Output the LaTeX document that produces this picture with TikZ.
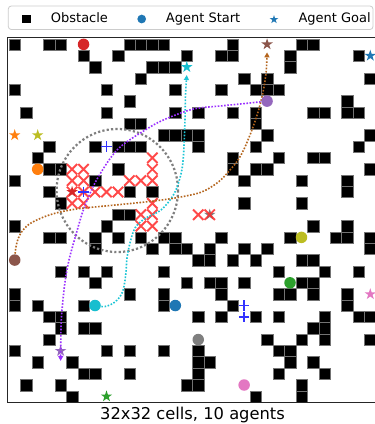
\documentclass[tikz,border=0pt]{standalone}
\usepackage{fontspec}
\setmainfont{DejaVu Sans}
\usetikzlibrary{shapes.geometric,arrows.meta}
\definecolor{tblue}{HTML}{1F77B4}
\definecolor{torange}{HTML}{FF7F0E}
\definecolor{tgreen}{HTML}{2CA02C}
\definecolor{tred}{HTML}{D62728}
\definecolor{tpurple}{HTML}{9467BD}
\definecolor{tbrown}{HTML}{8C564B}
\definecolor{tpink}{HTML}{E377C2}
\definecolor{tgray}{HTML}{7F7F7F}
\definecolor{tolive}{HTML}{BCBD22}
\definecolor{tcyan}{HTML}{17BECF}
\definecolor{pathcyan}{HTML}{1BC5D6}
\definecolor{pathpurple}{HTML}{9B30FF}
\definecolor{pathbrown}{HTML}{B5651D}
\definecolor{xred}{HTML}{FF2A2A}
\definecolor{plusblue}{HTML}{3333FF}
\tikzset{cellcs/.cd, c/.store in=\cellc, r/.store in=\cellr}
\tikzdeclarecoordinatesystem{cell}{%
  \tikzset{cellcs/.cd,#1}%
  \pgfmathsetmacro\cellX{14.735+11.47*\cellc}%
  \pgfmathsetmacro\cellY{-(44.3475+11.355*\cellr)}%
  \pgfpoint{\cellX pt}{\cellY pt}}
\tikzset{
  obst/.style={fill=black, draw=black!55, line width=0.3pt},
  startdot/.style={circle, inner sep=0pt, minimum size=11.5pt},
  goalstar/.style={star, star points=5, star point ratio=2.618, inner sep=0pt, minimum size=12pt},
  xm/.style={draw=xred, opacity=0.85, line width=1.9pt},
  plusm/.style={draw=plusblue, line width=1.6pt},
  pathline/.style={line width=1.6pt, dash pattern=on 1.6pt off 1.6pt, -{Triangle[length=5pt,width=5pt]}},
  spine/.style={draw=black!85, line width=1.2pt},
  legtext/.style={anchor=base west, inner sep=0pt, font=\fontsize{13}{15}\selectfont}
}
\begin{document}
\begin{tikzpicture}[x=1pt,y=-1pt]
\useasboundingbox (0,0) rectangle (375,424);
\fill[white] (0,0) rectangle (375,424);
% obstacles
\foreach \r/\cl in {
0/{0,3,4,10,11,12,13,19,25,26},
1/{6,9,15,18,19,24,30},
2/{7,12,13,14,24},
3/{11,20,22,31},
4/{0,8,14,18,21,22,23},
5/{10,29},
6/{1,8,14,16,19,21,26,27,29,30},
7/{10,11,21},
8/{13,14,15,16,22,31},
9/{3,7,9,10,11,16,21,30},
10/{2,19,23,26,27},
11/{3,4,9,19,21,22,31},
12/{0,7,20,25,29},
13/{3,10,12,29},
14/{4,20,25},
15/{9,10},
16/{0,8,26,29},
17/{3,4,7,9,11,13,14,18,24,28,29,31},
18/{7,12,14,15,17,20,22,31},
19/{16,17,19,21,25,26},
20/{4,6,8,13,23,27,30},
21/{7,15,17,18,20,25,26},
22/{0,10,13,18,23,24,26,29},
23/{0,2,6,13,19,29},
24/{3,4,16,18,21,23,27,30,31},
25/{4,6,7,26,27},
26/{3,22,25,27,31},
27/{0,8,10,13,16,23,24},
28/{2,5,16,17,24,26},
29/{6,7,10,16,23,27},
30/{1,4,15,16,25},
31/{5,21,25}}
{\foreach \c in \cl {\fill[obst] ({9+11.47*\c},{38.67+11.355*\r}) rectangle ++(11.47,11.355);}}
% gray goal under conflict marks
\node[goalstar, fill=tgray] (goal-gray) at (cell cs:c=17,r=15) {};
% conflict marks
\foreach \c/\r in {5/11,6/11,12/10,12/11,5/12,6/12,10/12,11/12,12/12,5/13,6/13,7/13,8/13,9/13,5/14,6/14,12/14,11/15,12/15,16/15,17/15,11/16,12/16}
{\draw[xm] (cell cs:c=\c,r=\r) ++(-5.2,-5.2) -- ++(10.4,10.4) ++(0,-10.4) -- ++(-10.4,10.4);}
% gray dotted circle
\draw[draw=tgray, line width=2.2pt, dash pattern=on 2.2pt off 2.2pt] (117.3,190.5) ellipse [x radius=60.7, y radius=61.5];
% agent markers (nodes)
\node[startdot, fill=tblue] (start-blue) at (cell cs:c=14,r=23) {};
\node[startdot, fill=torange] (start-orange) at (cell cs:c=2,r=11) {};
\node[startdot, fill=tgreen] (start-green) at (cell cs:c=24,r=21) {};
\node[startdot, fill=tred] (start-red) at (cell cs:c=6,r=0) {};
\node[startdot, fill=tpink] (start-pink) at (cell cs:c=20,r=30) {};
\node[startdot, fill=tgray] (start-gray) at (cell cs:c=16,r=26) {};
\node[startdot, fill=tolive] (start-olive) at (cell cs:c=25,r=17) {};
\node[goalstar, fill=tblue] (goal-blue) at (cell cs:c=31,r=1) {};
\node[goalstar, fill=torange] (goal-orange) at (cell cs:c=0,r=8) {};
\node[goalstar, fill=tgreen] (goal-green) at (cell cs:c=8,r=31) {};
\node[goalstar, fill=tpink] (goal-pink) at (cell cs:c=31,r=22) {};
\node[goalstar, fill=tolive] (goal-olive) at (cell cs:c=2,r=8) {};
\node[goalstar, fill=tcyan] (goal-cyan) at (cell cs:c=15,r=2) {};
\node[goalstar, fill=tpurple] (goal-purple) at (cell cs:c=4,r=27) {};
\node[goalstar, fill=tbrown] (goal-brown) at (cell cs:c=22,r=0) {};
\coordinate (cyan-a) at (cell cs:c=7,r=23);
\coordinate (purple-a) at (cell cs:c=22,r=5);
\coordinate (brown-a) at (cell cs:c=0,r=19);
% planned paths
\draw[pathline, draw=pathcyan] plot[smooth, tension=0.55] coordinates {(cyan-a) (105,306.5) (115,302) (122.5,292) (125.7,275) (127,258) (130,243) (135,228) (145,218.5) (161,210) (174,194) (181,174) (183.5,155) (185,120) (185.5,95) ([yshift=-8pt]goal-cyan.center)};
\draw[pathline, draw=pathpurple] plot[smooth, tension=0.55] coordinates {(purple-a) (245,103.5) (222,105.8) (196,108.5) (178,114) (158,122.5) (142,132) (128,141) (117,150) (107,163) (96,181) (88,198) (82,214) (75,238) (69,260) (65,282) (62,310) (61,328) ([yshift=-10pt]goal-purple.center)};
\draw[pathline, draw=pathbrown] plot[smooth, tension=0.55] coordinates {(brown-a) (15.5,250) (18,239) (23,230) (31,223) (45,216.5) (60,212) (80,208.5) (105,206) (145,202) (172,198.5) (195,194) (206,190) (219,181.5) (230,170) (238,160) (245,147) (253,127) (259.5,107) (264,87) (266.3,70) ([yshift=-8pt]goal-brown.center)};
% start markers drawn over the paths
\node[startdot, fill=tcyan] (start-cyan) at (cyan-a) {};
\node[startdot, fill=tpurple] (start-purple) at (purple-a) {};
\node[startdot, fill=tbrown] (start-brown) at (brown-a) {};
% red goal over conflict marks
\node[goalstar, fill=tred] (goal-red) at (cell cs:c=5,r=13) {};
% blue plus marks
\foreach \c/\r in {8/9,6/13,20/23,20/24}
{\draw[plusm] (cell cs:c=\c,r=\r) ++(-5.3,0) -- ++(10.6,0) ++(-5.3,-5.3) -- ++(0,10.6);}
% axes frame
\draw[spine] (375,37.3) -- (7.7,37.3) -- (7.7,402.7) -- (375,402.7);
% legend
\draw[draw=black!20, fill=white, line width=0.8pt, rounded corners=3pt] (8.3,6) rectangle (373,29.5);
\fill[black] (22.4,14.7) rectangle (31,23.3);
\node[circle, fill=tblue, inner sep=0pt, minimum size=8.7pt] (leg-start) at (141.7,19) {};
\node[star, star points=5, star point ratio=2.618, fill=tblue, inner sep=0pt, minimum size=9pt] (leg-goal) at (274,19.5) {};
\node[legtext] (leg-t1) at (50.7,22.3) {Obstacle};
\node[legtext] (leg-t2) at (165.7,22.3) {Agent Start};
\node[legtext] (leg-t3) at (298.3,22.3) {Agent Goal};
% title
\node[anchor=base, inner sep=0pt, font=\fontsize{16.3}{19}\selectfont] (title) at (192.5,419.8) {32x32 cells, 10 agents};
\end{tikzpicture}
\end{document}
